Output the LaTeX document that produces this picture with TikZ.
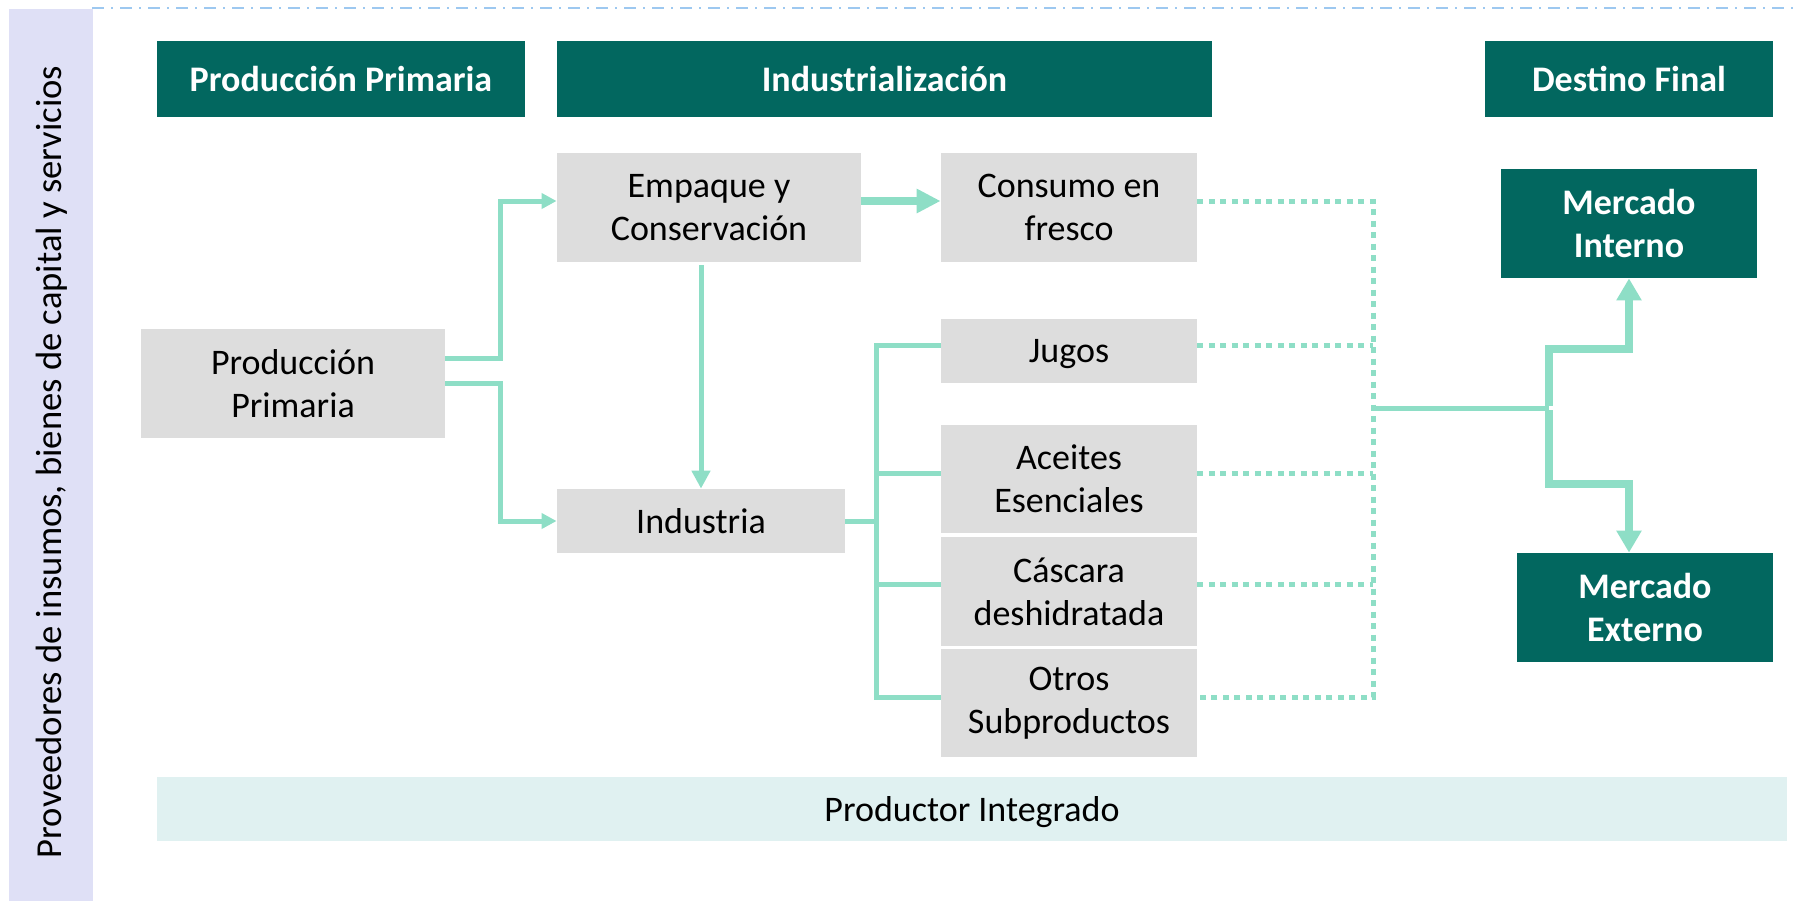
\documentclass[tikz,border=0pt]{standalone}
\usepackage{fontspec}
\setmainfont{Carlito}
\usetikzlibrary{arrows.meta}
\definecolor{hdr}{HTML}{02675F}
\definecolor{mint}{HTML}{8EDEC6}
\definecolor{boxgray}{HTML}{DDDDDD}
\definecolor{bandcol}{HTML}{DFE0F6}
\definecolor{prodcol}{HTML}{E0F1F1}
\definecolor{dashblue}{HTML}{9DC8F0}
\tikzset{
  base/.style={inner sep=0pt, align=center, font=\fontsize{18}{21.5}\selectfont},
  gbox/.style={base, fill=boxgray},
  hbox/.style={base, fill=hdr, text=white, font=\fontsize{18}{21.5}\selectfont\bfseries},
  conn/.style={draw=mint, line width=2.5pt, line join=miter},
  thickconn/.style={draw=mint, line width=4pt, line join=miter},
  dotconn/.style={draw=mint, line width=2.5pt, dash pattern=on 3pt off 2.75pt},
}
\begin{document}
\begin{tikzpicture}[x=0.5pt,y=-0.5pt]
\useasboundingbox (0,0) rectangle (1796,901);
% top dash-dot rule
\draw[dashblue, line width=1pt, dash pattern=on 6pt off 3.5pt on 1pt off 3.5pt] (92,8) -- (1796,8);
% left band
\fill[bandcol] (9,9) rectangle (93,901);
\node[base, rotate=90, font=\fontsize{18.3}{21.5}\selectfont] (prov) at (52,462)
  {Proveedores de insumos, bienes de capital y servicios};
% headers
\node[hbox, minimum width=184pt, minimum height=38pt] (hPP) at (341,79) {Producción Primaria};
\node[hbox, minimum width=327.5pt, minimum height=38pt] (hInd) at (884.5,79) {Industrialización};
\node[hbox, minimum width=144pt, minimum height=38pt] (hDest) at (1629,79) {Destino Final};
% grey boxes
\node[gbox, minimum width=152pt, minimum height=54.5pt] (pp) at (293,383.5) {Producción\\Primaria};
\node[gbox, minimum width=152pt, minimum height=54.5pt] (emp) at (709,207.5) {Empaque y\\Conservación};
\node[gbox, minimum width=144pt, minimum height=32pt, text depth=0pt] (ind) at (701,521) {Industria};
\node[gbox, minimum width=128pt, minimum height=54.5pt] (cons) at (1069,207.5) {Consumo en\\fresco};
\node[gbox, minimum width=128pt, minimum height=32pt, text depth=0pt] (jug) at (1069,351) {Jugos};
\node[gbox, minimum width=128pt, minimum height=54pt] (ace) at (1069,479) {Aceites\\Esenciales};
\node[gbox, minimum width=128pt, minimum height=54.5pt] (cas) at (1069,591.5) {Cáscara\\deshidratada};
\node[gbox, minimum width=128pt, minimum height=54pt] (otr) at (1069,703) {Otros\\Subproductos};
% destination boxes
\node[hbox, minimum width=128pt, minimum height=54.5pt] (mi) at (1629,223.5) {Mercado\\Interno};
\node[hbox, minimum width=128pt, minimum height=54.5pt] (me) at (1645,607.5) {Mercado\\Externo};
% bottom band
\node[base, fill=prodcol, minimum width=815pt, minimum height=32pt, text depth=0pt] (prodint) at (972,809) {Productor Integrado};

% connectors
\draw[conn, -{Triangle[length=7.5pt,width=7.5pt]}] ([yshift=12.75pt]pp.east) -- ++(55,0) |- ([yshift=3.25pt]emp.west);
\draw[conn, -{Triangle[length=7.5pt,width=7.5pt]}] (pp.east) -- ++(55,0) |- (ind.west);
\draw[conn, -{Triangle[length=9pt,width=9pt]}] ([yshift=-1.5pt]emp.south -| ind.north) -- (ind.north);
\draw[thickconn, -{Triangle[length=12pt,width=11.5pt]}] ([yshift=3.25pt]emp.east) -- ([yshift=3.25pt]cons.west);
% industry bus
\draw[conn] (ind.east) -- ++(32,0);
\draw[conn] ([yshift=3pt]jug.west) -- ++(-64,0) |- ([yshift=3pt]otr.west);
\draw[conn] ([yshift=3pt]ace.west) -- ++(-64,0);
\draw[conn] ([yshift=3.75pt]cas.west) -- ++(-64,0);
% dotted collectors
\draw[dotconn] ([yshift=3.25pt]cons.east) -- ++(176,0) |- ([yshift=3pt]otr.east);
\draw[dotconn] ([yshift=3pt]jug.east) -- ++(176,0);
\draw[dotconn] ([yshift=3pt]ace.east) -- ++(176,0);
\draw[dotconn] ([yshift=3.75pt]cas.east) -- ++(176,0);
% to markets
\coordinate (hub) at (1373,408);
\draw[conn] (hub) -- ++(176,0) coordinate (split);
\draw[thickconn, -{Triangle[length=11pt,width=12pt]}] ([yshift=1pt]split) -- ++(0,-57) -| (mi.south);
\draw[thickconn, -{Triangle[length=11pt,width=12pt]}] ([yshift=-1pt]split) -- ++(0,74) -| ([xshift=-8pt]me.north);
\end{tikzpicture}
\end{document}
